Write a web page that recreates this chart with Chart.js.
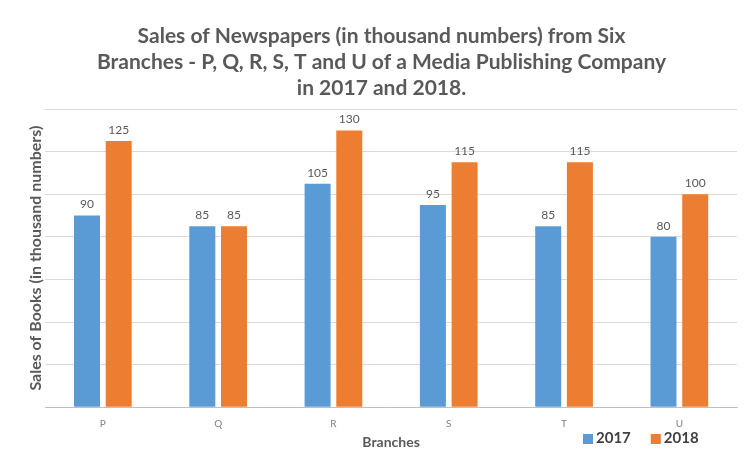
<!DOCTYPE html>
<html><head><meta charset="utf-8">
<script src="https://cdn.jsdelivr.net/npm/chart.js@4"></script>
<style>html,body{margin:0;padding:0;background:#fff;}canvas{display:block;}</style>
</head><body>
<canvas id="c" width="746" height="455"></canvas>
<script>
const categories = ["P", "Q", "R", "S", "T", "U"];
const sales2017 = [90, 85, 105, 95, 85, 80];
const sales2018 = [125, 85, 130, 115, 115, 100];
const seriesLabels = ["2017", "2018"];
const titleLines = ["Sales of Newspapers (in thousand numbers) from Six", "Branches - P, Q, R, S, T and U of a Media Publishing Company", "in 2017 and 2018."];

const FONT = "Lato, 'Open Sans', sans-serif";

const dataLabels = {
  id: 'dataLabels',
  afterDatasetsDraw(chart) {
    const ctx = chart.ctx;
    ctx.save();
    ctx.font = "12px " + FONT;
    ctx.fillStyle = "#595959";
    ctx.textAlign = "center";
    ctx.textBaseline = "bottom";
    chart.data.datasets.forEach((ds, i) => {
      chart.getDatasetMeta(i).data.forEach((bar, j) => {
        ctx.fillText(ds.data[j], bar.x, bar.y - 5);
      });
    });
    ctx.restore();
  }
};

const customLegend = {
  id: 'customLegend',
  afterDraw(chart) {
    const ctx = chart.ctx;
    ctx.save();
    ctx.font = "bold 15px " + FONT;
    ctx.textBaseline = "middle";
    ctx.textAlign = "left";
    let x = 583;
    const y = 438;
    chart.data.datasets.forEach(ds => {
      ctx.fillStyle = ds.backgroundColor;
      ctx.fillRect(x, y - 4, 10, 10);
      ctx.fillStyle = "#404040";
      ctx.fillText(ds.label, x + 13, y);
      x += 13 + ctx.measureText(ds.label).width + 20;
    });
    ctx.restore();
  }
};

new Chart(document.getElementById('c'), {
  type: 'bar',
  data: {
    labels: categories,
    datasets: [
      { label: seriesLabels[0], data: sales2017, backgroundColor: '#5B9BD5', categoryPercentage: 0.55, barPercentage: 0.82 },
      { label: seriesLabels[1], data: sales2018, backgroundColor: '#ED7D31', categoryPercentage: 0.55, barPercentage: 0.82 }
    ]
  },
  options: {
    responsive: false,
    animation: false,
    devicePixelRatio: 1,
    layout: { padding: { left: 26, right: 9, top: 0, bottom: 1 } },
    plugins: {
      legend: { display: false },
      tooltip: { enabled: false },
      title: {
        display: true,
        text: titleLines,
        color: '#595959',
        font: { family: FONT, size: 21, weight: 'bold', lineHeight: 1.24 },
        padding: { top: 23, bottom: 8 }
      }
    },
    scales: {
      x: {
        grid: { display: false },
        border: { color: '#bfbfbf' },
        ticks: { color: '#7f7f7f', font: { family: FONT, size: 10 }, padding: 3 },
        title: { display: true, text: 'Branches', color: '#595959', font: { family: FONT, size: 14, weight: 'bold' }, padding: { top: 1, bottom: 3 } }
      },
      y: {
        min: 0, max: 140,
        ticks: { display: false, stepSize: 20 },
        grid: { color: '#d9d9d9', drawTicks: false },
        border: { display: false },
        title: { display: true, text: 'Sales of Books (in thousand numbers)', color: '#595959', font: { family: FONT, size: 16, weight: 'bold' }, padding: { top: 0, bottom: 0 } }
      }
    }
  },
  plugins: [dataLabels, customLegend]
});
</script>
</body></html>
